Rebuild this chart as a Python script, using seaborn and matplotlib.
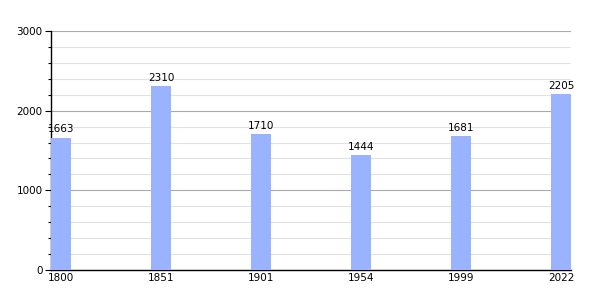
import matplotlib
matplotlib.use("Agg")
import matplotlib.pyplot as plt
import seaborn as sns
import pandas as pd
from matplotlib.ticker import MultipleLocator

years = ["1800", "1851", "1901", "1954", "1999", "2022"]
population = [1663, 2310, 1710, 1444, 1681, 2205]

sns.set_style("white")
plt.rcParams['font.family'] = ['DejaVu Sans']
plt.rcParams['text.color'] = 'black'
plt.rcParams['xtick.color'] = 'black'
plt.rcParams['ytick.color'] = 'black'

df = pd.DataFrame({"year": years, "pop": population})

fig = plt.figure(figsize=(6, 3), dpi=100)
ax = fig.add_axes([51/600, 30/300, 520/600, 239/300])

sns.barplot(data=df, x="year", y="pop", color="#99B3FF", saturation=1, width=0.2,
            linewidth=0, edgecolor="none", ax=ax, zorder=3)

ax.set_xlim(-0.1, 5.1)
ax.set_ylim(0, 3000)
ax.yaxis.set_major_locator(MultipleLocator(1000))
ax.yaxis.set_minor_locator(MultipleLocator(200))
ax.grid(which="major", axis="y", color="#aaaaaa", linewidth=0.8, zorder=0)
ax.grid(which="minor", axis="y", color="#e2e2e2", linewidth=0.8, zorder=0)
ax.set_axisbelow(True)

for s in ["top", "right"]:
    ax.spines[s].set_visible(False)
for s in ["left", "bottom"]:
    ax.spines[s].set_color("black")
    ax.spines[s].set_linewidth(1.0)

ax.tick_params(axis="y", which="major", length=4, width=0.8, labelsize=7.5, pad=2, left=True, colors="black")
ax.tick_params(axis="y", which="minor", length=2.5, width=0.8, left=True, colors="black")
ax.tick_params(axis="x", length=0, labelsize=7.5, pad=2, colors="black")
ax.set_xlabel("")
ax.set_ylabel("")

for i, v in enumerate(population):
    ax.text(i, v + 40, str(v), ha="center", va="bottom", fontsize=7.5, color="black")

fig.savefig("out.png", dpi=100)
